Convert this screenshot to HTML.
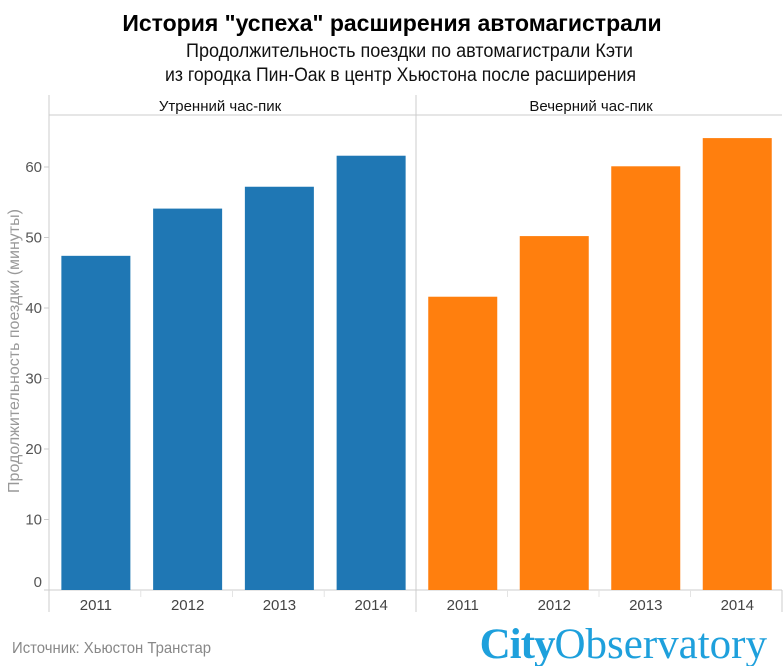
<!DOCTYPE html>
<html><head><meta charset="utf-8"><style>
body{margin:0;width:784px;height:666px;background:#fff;overflow:hidden;font-family:"Liberation Sans Narrow","Liberation Sans",sans-serif}
svg{position:absolute;left:0;top:0}
</style></head><body>
<svg width="784" height="666" id="c">
<text x="392" y="31" text-anchor="middle" font-size="23" font-weight="bold" fill="#000">История "успеха" расширения автомагистрали</text>
<text x="186" y="57" textLength="447" lengthAdjust="spacingAndGlyphs" font-size="19" fill="#111">Продолжительность поездки по автомагистрали Кэти</text>
<text x="165" y="81" textLength="471" lengthAdjust="spacingAndGlyphs" font-size="19" fill="#111">из городка Пин-Оак в центр Хьюстона после расширения</text>
<line x1="49" y1="95" x2="49" y2="612" stroke="#ccc"/>
<line x1="49" y1="115" x2="782" y2="115" stroke="#ccc"/>
<line x1="416" y1="95" x2="416" y2="612" stroke="#ccc"/>
<line x1="782" y1="590" x2="782" y2="612" stroke="#ccc"/>
<line x1="49" y1="590" x2="782" y2="590" stroke="#ccc"/>
<text x="220" y="111" text-anchor="middle" font-size="15" fill="#111">Утренний час-пик</text>
<text x="591" y="111" text-anchor="middle" font-size="15" fill="#111">Вечерний час-пик</text>
<text transform="translate(19,351) rotate(-90)" text-anchor="middle" font-size="16" fill="#999">Продолжительность поездки (минуты)</text>
<text x="12" y="653" textLength="199" lengthAdjust="spacingAndGlyphs" font-size="16" fill="#888">Источник: Хьюстон Транстар</text>
<text x="767" y="658" text-anchor="end" font-family="Liberation Serif,serif" font-size="43" fill="#1ea0dc"><tspan font-weight="bold" letter-spacing="-1">City</tspan><tspan>Observatory</tspan></text>
</svg>
<script>
const years=["2011","2012","2013","2014"];
const morning=[47.4,54.1,57.2,61.6];
const evening=[41.6,50.2,60.1,64.1];
const yTicks=[0,10,20,30,40,50,60];
const svg=document.getElementById('c');
const NS="http://www.w3.org/2000/svg";
const y=v=>590-v*7.05;
function mk(t,a){const e=document.createElementNS(NS,t);for(const k in a)e.setAttribute(k,a[k]);svg.appendChild(e);return e;}
yTicks.forEach(t=>{
 const l=mk('line',{x1:44,x2:49,y1:y(t),y2:y(t),stroke:'#ccc'});
 
 
 const tx=mk('text',{x:42,y:y(t)+5-(t===0?8:0),'text-anchor':'end','font-size':15,fill:'#555'});
 tx.textContent=t;
 
 
});
function panel(x0,w,vals,color,name){
 const band=w/years.length;
 years.forEach((yr,i)=>{
  const bx=x0+band*i+(band-69)/2+1;
  const r=mk('rect',{x:bx,y:y(vals[i]),width:69,height:590-y(vals[i]),fill:color});
  
  
  const t=mk('text',{x:x0+band*(i+.5)+1,y:610,'text-anchor':'middle','font-size':15,fill:'#444'});
  t.textContent=yr;
  
  
  if(i>0){const l=mk('line',{x1:x0+band*i,x2:x0+band*i,y1:590,y2:597,stroke:'#e4e4e4'});
  
  }
 });
}
panel(49,367,morning,'#1f77b4','morning');
panel(416,366,evening,'#ff7f0e','evening');
</script>
</body></html>
